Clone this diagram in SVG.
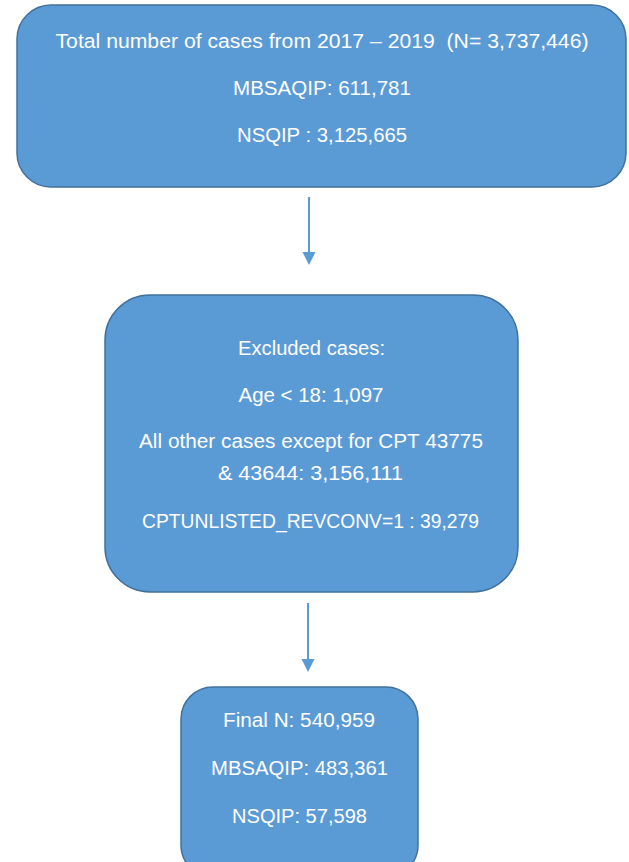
<svg xmlns="http://www.w3.org/2000/svg" width="629" height="862" viewBox="0 0 629 862">
  <defs>
    <style>
      .box { fill: #5B9BD5; stroke: #41719C; stroke-width: 1.5; }
      .t { font-family: "Liberation Sans", Arial, sans-serif; font-size: 20.5px; fill: #FFFFFF; text-anchor: middle; white-space: pre; }
      .conn { stroke: #5B9BD5; stroke-width: 2; fill: none; }
    </style>
    <marker id="arrow" markerUnits="userSpaceOnUse" markerWidth="14" markerHeight="14" refX="3" refY="6.5" orient="auto">
      <path d="M0,0 L13,6.5 L0,13 Z" fill="#5B9BD5"/>
    </marker>
  </defs>
  <rect width="629" height="862" fill="#FFFFFF"/>

  <g id="connectors">
    <line class="conn" x1="309" y1="197" x2="309" y2="255" marker-end="url(#arrow)"/>
    <line class="conn" x1="308" y1="603" x2="308" y2="662" marker-end="url(#arrow)"/>
  </g>

  <g id="node-total">
    <rect class="box" x="17" y="5" width="609" height="182" rx="34" ry="34"/>
    <text class="t" x="322" y="48" textLength="533" lengthAdjust="spacingAndGlyphs" xml:space="preserve">Total number of cases from 2017 – 2019  (N= 3,737,446)</text>
    <text class="t" x="322" y="95" textLength="178" lengthAdjust="spacingAndGlyphs">MBSAQIP: 611,781</text>
    <text class="t" x="322" y="142" textLength="170" lengthAdjust="spacingAndGlyphs">NSQIP : 3,125,665</text>
  </g>

  <g id="node-excluded">
    <rect class="box" x="105" y="295" width="413" height="297" rx="45" ry="45"/>
    <text class="t" x="311.5" y="355" textLength="147" lengthAdjust="spacingAndGlyphs">Excluded cases:</text>
    <text class="t" x="311" y="402" textLength="145" lengthAdjust="spacingAndGlyphs">Age &lt; 18: 1,097</text>
    <text class="t" x="311" y="448" textLength="344" lengthAdjust="spacingAndGlyphs">All other cases except for CPT 43775</text>
    <text class="t" x="310.5" y="480" textLength="185" lengthAdjust="spacingAndGlyphs">&amp; 43644: 3,156,111</text>
    <text class="t" x="310.5" y="528" textLength="337" lengthAdjust="spacingAndGlyphs">CPTUNLISTED_REVCONV=1 : 39,279</text>
  </g>

  <g id="node-final">
    <rect class="box" x="181" y="687" width="237" height="190" rx="32" ry="32"/>
    <text class="t" x="299" y="727" textLength="152" lengthAdjust="spacingAndGlyphs">Final N: 540,959</text>
    <text class="t" x="299.5" y="775" textLength="177" lengthAdjust="spacingAndGlyphs">MBSAQIP: 483,361</text>
    <text class="t" x="299.5" y="823" textLength="135" lengthAdjust="spacingAndGlyphs">NSQIP: 57,598</text>
  </g>
</svg>
